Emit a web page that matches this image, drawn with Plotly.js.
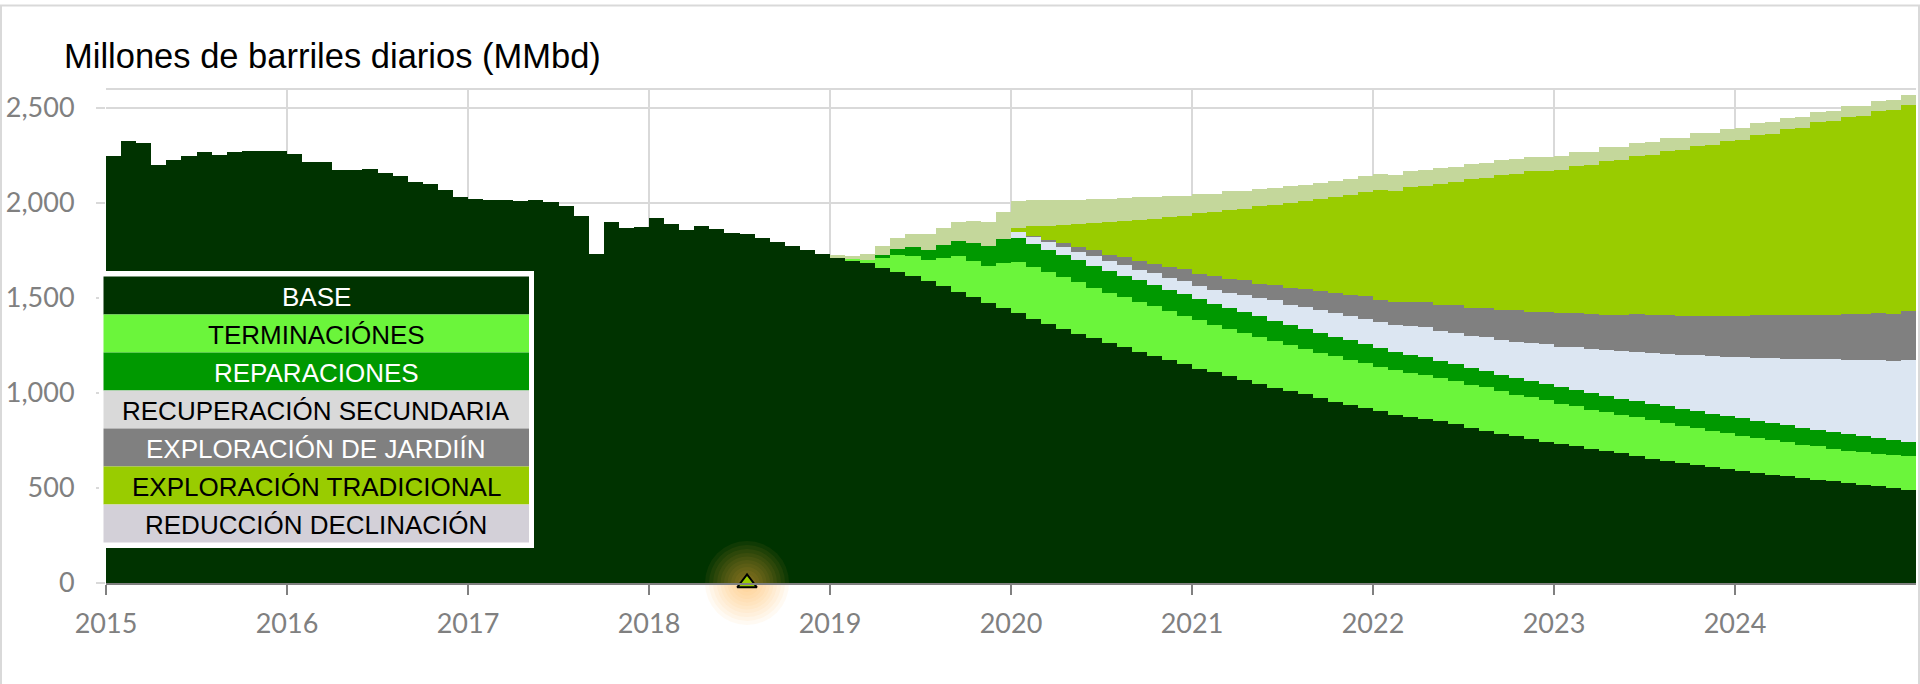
<!DOCTYPE html>
<html>
<head>
<meta charset="utf-8">
<script src="https://cdn.plot.ly/plotly-3.0.1.min.js"></script>
<style>
  html, body { margin: 0; padding: 0; background: #ffffff; }
  #chart { width: 1920px; height: 684px; }
</style>
</head>
<body>
<div id="chart"></div>
<script>
// ---------------- DATA ----------------
const years = ['2015', '2016', '2017', '2018', '2019', '2020', '2021', '2022', '2023', '2024'];
const monthNumbers = ['01', '02', '03', '04', '05', '06', '07', '08', '09', '10', '11', '12'];

const seriesNames = [
  'BASE',
  'TERMINACIÓNES',
  'REPARACIONES',
  'RECUPERACIÓN SECUNDARIA',
  'EXPLORACIÓN DE JARDIÍN',
  'EXPLORACIÓN TRADICIONAL',
  'REDUCCIÓN DECLINACIÓN'
];

// Monthly values (MMbd), Jan 2015 .. Dec 2024, one row per year
const base = [
  2250, 2328, 2316, 2200, 2224, 2245, 2268, 2254, 2266, 2275, 2275, 2272,
  2258, 2214, 2214, 2174, 2174, 2177, 2158, 2140, 2112, 2100, 2070, 2033,
  2021, 2016, 2016, 2010, 2017, 2007, 1984, 1930, 1731, 1902, 1866, 1875,
  1921, 1889, 1858, 1881, 1863, 1844, 1837, 1814, 1793, 1772, 1751, 1730,
  1710, 1695, 1686, 1656, 1638, 1614, 1591, 1561, 1531, 1503, 1474, 1447,
  1421, 1391, 1365, 1339, 1312, 1288, 1265, 1242, 1217, 1195, 1174, 1151,
  1128, 1110, 1088, 1068, 1049, 1028, 1010, 993, 972, 953, 937, 921,
  903, 886, 873, 862, 851, 835, 816, 798, 784, 772, 758, 742,
  731, 719, 705, 696, 684, 668, 652, 640, 631, 619, 609, 600,
  591, 579, 570, 561, 552, 544, 535, 526, 517, 509, 501, 491
];
const terminaciones = [
  0, 0, 0, 0, 0, 0, 0, 0, 0, 0, 0, 0,
  0, 0, 0, 0, 0, 0, 0, 0, 0, 0, 0, 0,
  0, 0, 0, 0, 0, 0, 0, 0, 0, 0, 0, 0,
  0, 0, 0, 0, 0, 0, 0, 0, 0, 0, 0, 0,
  0, 10, 16, 53, 90, 105, 111, 149, 188, 190, 192, 237,
  270, 272, 270, 270, 270, 266, 261, 261, 260, 261, 256, 256,
  254, 250, 249, 248, 246, 244, 241, 238, 238, 240, 238, 237,
  234, 233, 232, 234, 228, 226, 228, 232, 225, 219, 221, 223,
  213, 211, 207, 202, 202, 204, 204, 202, 197, 197, 193, 189,
  184, 184, 181, 179, 176, 175, 170, 170, 171, 172, 171, 175
];
const reparaciones = [
  0, 0, 0, 0, 0, 0, 0, 0, 0, 0, 0, 0,
  0, 0, 0, 0, 0, 0, 0, 0, 0, 0, 0, 0,
  0, 0, 0, 0, 0, 0, 0, 0, 0, 0, 0, 0,
  0, 0, 0, 0, 0, 0, 0, 0, 0, 0, 0, 0,
  0, 0, 0, 15, 30, 47, 52, 71, 79, 96, 106, 126,
  123, 123, 119, 119, 116, 116, 118, 114, 116, 112, 114, 112,
  113, 110, 109, 109, 108, 107, 107, 106, 106, 103, 102, 102,
  100, 97, 96, 94, 91, 90, 88, 87, 87, 88, 84, 82,
  86, 84, 88, 88, 84, 84, 86, 88, 88, 87, 89, 88,
  91, 92, 92, 91, 90, 88, 88, 86, 85, 84, 80, 74
];
const recuperacionSecundaria = [
  0, 0, 0, 0, 0, 0, 0, 0, 0, 0, 0, 0,
  0, 0, 0, 0, 0, 0, 0, 0, 0, 0, 0, 0,
  0, 0, 0, 0, 0, 0, 0, 0, 0, 0, 0, 0,
  0, 0, 0, 0, 0, 0, 0, 0, 0, 0, 0, 0,
  0, 0, 0, 0, 0, 0, 0, 0, 0, 0, 0, 0,
  32, 33, 39, 40, 44, 53, 49, 57, 56, 63, 61, 69,
  66, 74, 80, 92, 95, 109, 105, 116, 119, 125, 126, 129,
  135, 142, 150, 158, 158, 166, 167, 176, 181, 191, 202, 212,
  214, 226, 231, 242, 253, 262, 268, 277, 286, 295, 302, 314,
  321, 331, 339, 350, 359, 373, 384, 394, 400, 410, 417, 435
];
const exploracionJardin = [
  0, 0, 0, 0, 0, 0, 0, 0, 0, 0, 0, 0,
  0, 0, 0, 0, 0, 0, 0, 0, 0, 0, 0, 0,
  0, 0, 0, 0, 0, 0, 0, 0, 0, 0, 0, 0,
  0, 0, 0, 0, 0, 0, 0, 0, 0, 0, 0, 0,
  0, 0, 0, 0, 0, 0, 0, 0, 0, 0, 0, 0,
  0, 9, 12, 21, 25, 28, 35, 40, 44, 48, 56, 65,
  67, 73, 74, 76, 77, 82, 90, 94, 100, 105, 114, 120,
  119, 123, 128, 131, 133, 144, 148, 154, 161, 168, 163, 169,
  177, 181, 186, 184, 189, 196, 199, 202, 201, 205, 210, 212,
  216, 223, 227, 231, 235, 232, 235, 241, 244, 246, 248, 255
];
const exploracionTradicional = [
  0, 0, 0, 0, 0, 0, 0, 0, 0, 0, 0, 0,
  0, 0, 0, 0, 0, 0, 0, 0, 0, 0, 0, 0,
  0, 0, 0, 0, 0, 0, 0, 0, 0, 0, 0, 0,
  0, 0, 0, 0, 0, 0, 0, 0, 0, 0, 0, 0,
  0, 0, 0, 0, 0, 0, 0, 0, 0, 0, 0, 0,
  22, 49, 76, 95, 122, 144, 172, 189, 219, 238, 263, 277,
  319, 334, 365, 375, 407, 421, 447, 462, 486, 506, 523, 547,
  576, 583, 603, 612, 641, 648, 679, 685, 711, 716, 739, 742,
  754, 775, 781, 811, 816, 835, 845, 866, 874, 899, 901, 925,
  930, 951, 956, 979, 983, 1013, 1018, 1036, 1043, 1065, 1074, 1088
];
const reduccionDeclinacion = [
  0, 0, 0, 0, 0, 0, 0, 0, 0, 0, 0, 0,
  0, 0, 0, 0, 0, 0, 0, 0, 0, 0, 0, 0,
  0, 0, 0, 0, 0, 0, 0, 0, 0, 0, 0, 0,
  0, 0, 0, 0, 0, 0, 0, 0, 0, 0, 0, 0,
  16, 14, 29, 49, 58, 69, 84, 89, 102, 116, 130, 141,
  142, 137, 133, 133, 128, 126, 123, 123, 118, 116, 111, 109,
  100, 98, 96, 94, 92, 90, 88, 87, 86, 85, 84, 84,
  84, 84, 84, 82, 82, 80, 78, 78, 76, 75, 74, 74,
  73, 72, 72, 70, 69, 68, 67, 66, 66, 64, 64, 62,
  61, 61, 60, 58, 58, 56, 55, 55, 53, 53, 52, 52
];

const yTickValues = [0, 500, 1000, 1500, 2000, 2500];
const titleText = 'Millones de barriles diarios (MMbd)';
const highlightMonth = '2018-07';
const highlightValue = 0;

// ---------------- STYLE ----------------
const chartColors = ['#003300', '#6bf53b', '#009900', '#dce6f2', '#808080', '#99cc00', '#c4d79b'];
const legendColors = ['#003300', '#6bf53b', '#009900', '#d9d9d9', '#808080', '#99cc00', '#d3d0d8'];
const legendTextColors = ['#ffffff', '#000000', '#ffffff', '#000000', '#ffffff', '#000000', '#000000'];

// ---------------- BUILD ----------------
const months = [];
years.forEach(y => monthNumbers.forEach(m => months.push(y + '-' + m)));
// month label -> position on a linear "year" axis (bar centred in its month)
const monthPos = lbl => {
  const [y, m] = lbl.split('-').map(Number);
  return y + (m - 0.5) / 12;
};
const xPos = months.map(monthPos);

const seriesValues = [base, terminaciones, reparaciones, recuperacionSecundaria,
                      exploracionJardin, exploracionTradicional, reduccionDeclinacion];

const traces = seriesValues.map((vals, i) => ({
  type: 'bar',
  name: seriesNames[i],
  x: xPos,
  y: vals,
  marker: { color: chartColors[i], line: { width: 0 } },
  hoverinfo: 'skip',
  showlegend: false
}));

// highlight marker with soft glow
const hx = monthPos(highlightMonth);
const glowSizes = [84, 76, 68, 60, 53, 46, 39, 32, 25, 18];
traces.push({
  type: 'scatter', mode: 'markers',
  x: glowSizes.map(() => hx), y: glowSizes.map(() => highlightValue),
  marker: { size: glowSizes, color: 'rgba(255,170,70,0.09)', line: { width: 0 } },
  hoverinfo: 'skip', showlegend: false, cliponaxis: false
});
traces.push({
  type: 'scatter', mode: 'markers',
  x: [hx], y: [highlightValue],
  marker: { symbol: 'triangle-up', size: 17, color: '#99cc00', line: { color: '#000000', width: 2 } },
  hoverinfo: 'skip', showlegend: false, cliponaxis: false
});

// pixel -> paper helpers (plot area 106..1916 x 89..583)
const PL = 106, PR = 1916, PT = 89, PB = 583;
const px = v => (v - PL) / (PR - PL);
const py = v => (PB - v) / (PB - PT);

const shapes = [
  // figure frame
  { type: 'rect', xref: 'paper', yref: 'paper', x0: px(1), x1: px(1919), y0: py(700), y1: py(5.5),
    line: { color: '#d9d9d9', width: 2 }, fillcolor: 'rgba(0,0,0,0)', layer: 'below' },
  // top border of plot area
  { type: 'line', xref: 'paper', yref: 'paper', x0: 0, x1: 1, y0: 1, y1: 1,
    line: { color: '#d9d9d9', width: 2 }, layer: 'below' },
  // legend white box
  { type: 'rect', xref: 'paper', yref: 'paper', x0: px(99), x1: px(534), y0: py(548), y1: py(271),
    line: { width: 0 }, fillcolor: '#ffffff', layer: 'above' }
];
const annotations = [
  { text: titleText, xref: 'paper', yref: 'paper', x: px(62), y: py(56), xanchor: 'left', yanchor: 'middle',
    showarrow: false, font: { family: 'Liberation Sans, Arial, sans-serif', size: 34.5, color: '#000000' } }
];
const rowTop = 276.5, rowH = 38;
seriesNames.forEach((name, i) => {
  const y0 = rowTop + i * rowH;
  shapes.push({ type: 'rect', xref: 'paper', yref: 'paper', x0: px(103.5), x1: px(529), y0: py(y0 + rowH), y1: py(y0),
    line: { width: 0 }, fillcolor: legendColors[i], layer: 'above' });
  annotations.push({ text: name, xref: 'paper', yref: 'paper', x: px(316), y: py(y0 + rowH / 2 + 1),
    xanchor: 'center', yanchor: 'middle', showarrow: false,
    font: { family: 'Liberation Sans, Arial, sans-serif', size: 26, color: legendTextColors[i] } });
});

const tickFont = { family: 'Lato, Carlito, "Open Sans", sans-serif', size: 27, color: '#808080' };

const layout = {
  width: 1920, height: 684,
  margin: { l: PL, r: 1920 - PR, t: PT, b: 684 - PB, pad: 0 },
  paper_bgcolor: '#ffffff', plot_bgcolor: '#ffffff',
  barmode: 'stack', bargap: 0,
  showlegend: false, hovermode: false,
  xaxis: {
    type: 'linear', range: [2015, 2025],
    tickvals: years.map(Number), ticktext: years,
    ticks: 'outside', ticklen: 10, tickwidth: 2, tickcolor: '#808080',
    showgrid: true, gridcolor: '#d9d9d9', gridwidth: 2,
    showline: true, linecolor: '#808080', linewidth: 2,
    zeroline: false, tickfont: tickFont, ticklabelstandoff: 6, fixedrange: true
  },
  yaxis: {
    range: [0, 2600], tickvals: yTickValues, tickformat: ',d',
    ticks: 'outside', ticklen: 9, tickwidth: 2, tickcolor: '#d9d9d9',
    showgrid: true, gridcolor: '#d9d9d9', gridwidth: 2,
    showline: false, zeroline: false, tickfont: tickFont, ticklabelstandoff: 16, fixedrange: true
  },
  shapes: shapes,
  annotations: annotations
};

Plotly.newPlot('chart', traces, layout, { displayModeBar: false, staticPlot: true });
</script>
</body>
</html>
